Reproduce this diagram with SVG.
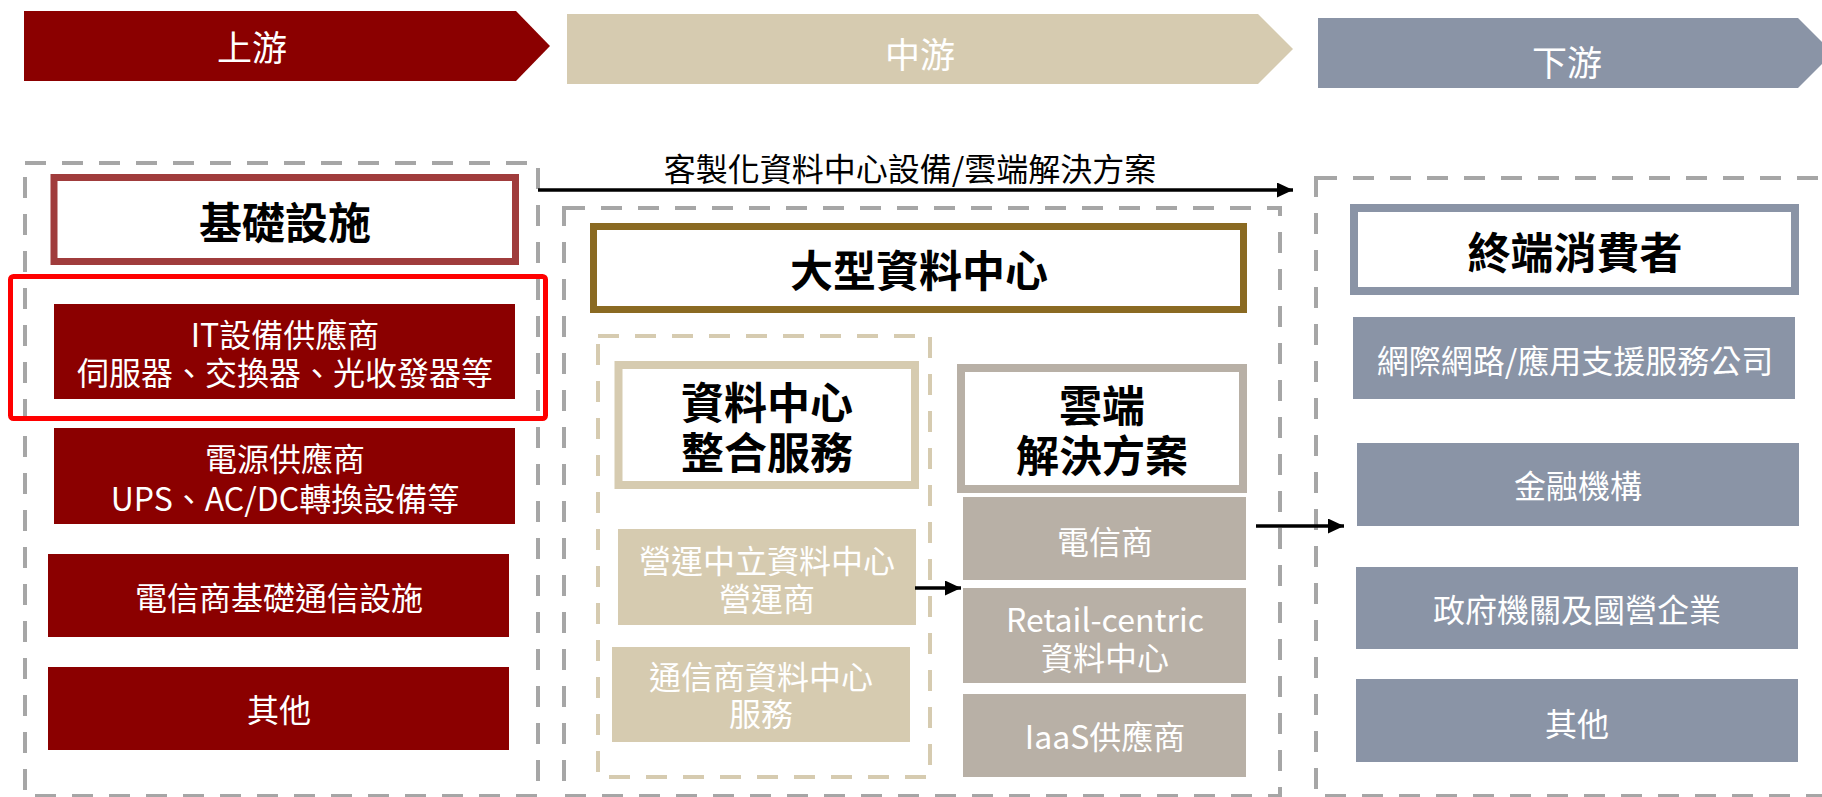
<svg xmlns="http://www.w3.org/2000/svg" width="1822" height="797" viewBox="0 0 1822 797">
<style>
text{font-family:"Noto Sans CJK TC","Noto Sans CJK SC","Noto Sans",sans-serif;text-anchor:middle;dominant-baseline:central}
.ban{font-size:35px;fill:#fff}
.hd{font-size:43px;font-weight:bold;fill:#000}
.bt{font-size:32px;fill:#fff}
.lbl{font-size:32px;fill:#000}
.dash{fill:none;stroke:#a6a6a6;stroke-width:4;stroke-dasharray:21 16}
.dashb{fill:none;stroke:#d6cbb0;stroke-width:4;stroke-dasharray:21 16}
.red{fill:#8b0000}
.beige{fill:#d6cbb0}
.taupe{fill:#b8b0a6}
.slate{fill:#8a94a6}
.conn{stroke:#000;stroke-width:3.5;fill:none}
</style>
<defs>
<marker id="ah" markerWidth="16" markerHeight="15" refX="16" refY="7.5" orient="auto" markerUnits="userSpaceOnUse"><path d="M0,0 L16,7.5 L0,15 z" fill="#000"/></marker>
</defs>

<g id="banner-up">
<path class="red" d="M24,11 H516 L550,46 L516,81 H24 Z"/>
<text class="ban" x="252" y="45">上游</text>
</g>
<g id="banner-mid">
<path class="beige" d="M567,14 H1258 L1293,49 L1258,84 H567 Z"/>
<text class="ban" x="920" y="52">中游</text>
</g>
<g id="banner-down">
<path class="slate" d="M1318,18 H1798 L1833,53 L1798,88 H1318 Z"/>
<text class="ban" x="1567" y="60">下游</text>
</g>

<g id="upstream-group">
<rect class="dash" x="25" y="163" width="513" height="633"/>
</g>
<g id="midstream-group">
<rect class="dash" x="564" y="208" width="716" height="588"/>
</g>
<g id="dc-services-group">
<rect class="dashb" x="598" y="336" width="332" height="441"/>
</g>
<g id="downstream-group">
<rect class="dash" x="1316" y="178" width="520" height="618"/>
</g>

<g id="infra">
<rect x="54" y="177.5" width="461.5" height="84" fill="#fff" stroke="#a03c3c" stroke-width="7"/>
<text class="hd" x="285" y="220">基礎設施</text>
</g>
<g id="it-supplier">
<rect class="red" x="54" y="304" width="461" height="95"/>
<text class="bt" x="285" y="333">IT設備供應商</text>
<text class="bt" x="285" y="371">伺服器、交換器、光收發器等</text>
</g>
<g id="power-supplier">
<rect class="red" x="54" y="428" width="461" height="96"/>
<text class="bt" x="285" y="457">電源供應商</text>
<text class="bt" x="285" y="497">UPS、AC/DC轉換設備等</text>
</g>
<g id="telecom-infra">
<rect class="red" x="48" y="554" width="461" height="83"/>
<text class="bt" x="279" y="596">電信商基礎通信設施</text>
</g>
<g id="up-other">
<rect class="red" x="48" y="667" width="461" height="83"/>
<text class="bt" x="279" y="708">其他</text>
</g>
<g id="highlight">
<rect x="10.5" y="276.5" width="535" height="142" rx="3" fill="none" stroke="#ff0000" stroke-width="5"/>
</g>

<g id="large-dc">
<rect x="593.5" y="226.5" width="650" height="83" fill="#fff" stroke="#8a6a22" stroke-width="7"/>
<text class="hd" x="919" y="268">大型資料中心</text>
</g>
<g id="dc-integration">
<rect x="618.5" y="365" width="296.5" height="120" fill="#fff" stroke="#d6cbb0" stroke-width="8"/>
<text class="hd" x="767" y="400">資料中心</text>
<text class="hd" x="767" y="450">整合服務</text>
</g>
<g id="cloud-solution">
<rect x="961" y="368" width="282" height="121" fill="#fff" stroke="#b8b0a6" stroke-width="8"/>
<text class="hd" x="1102" y="403">雲端</text>
<text class="hd" x="1102" y="453">解決方案</text>
</g>
<g id="neutral-dc">
<rect class="beige" x="618" y="529" width="298" height="96"/>
<text class="bt" x="767" y="559">營運中立資料中心</text>
<text class="bt" x="767" y="597">營運商</text>
</g>
<g id="telecom-dc">
<rect class="beige" x="612" y="647" width="298" height="95"/>
<text class="bt" x="761" y="675">通信商資料中心</text>
<text class="bt" x="761" y="712">服務</text>
</g>
<g id="telecom">
<rect class="taupe" x="963" y="497" width="283" height="83"/>
<text class="bt" x="1105" y="540">電信商</text>
</g>
<g id="retail-dc">
<rect class="taupe" x="963" y="588" width="283" height="95"/>
<text class="bt" x="1105" y="618">Retail-centric</text>
<text class="bt" x="1105" y="656">資料中心</text>
</g>
<g id="iaas">
<rect class="taupe" x="963" y="694" width="283" height="83"/>
<text class="bt" x="1105" y="735">IaaS供應商</text>
</g>

<g id="end-consumer">
<rect x="1354" y="208" width="441" height="83" fill="#fff" stroke="#8a94a6" stroke-width="8"/>
<text class="hd" x="1575" y="250">終端消費者</text>
</g>
<g id="internet-co">
<rect class="slate" x="1353" y="317" width="442" height="82"/>
<text class="bt" x="1575" y="359">網際網路/應用支援服務公司</text>
</g>
<g id="finance">
<rect class="slate" x="1357" y="443" width="442" height="83"/>
<text class="bt" x="1578" y="484">金融機構</text>
</g>
<g id="government">
<rect class="slate" x="1356" y="567" width="442" height="82"/>
<text class="bt" x="1577" y="608">政府機關及國營企業</text>
</g>
<g id="down-other">
<rect class="slate" x="1356" y="679" width="442" height="83"/>
<text class="bt" x="1577" y="722">其他</text>
</g>

<g id="connectors">
<line class="conn" x1="538" y1="190" x2="1293" y2="190" marker-end="url(#ah)"/>
<text class="lbl" x="910" y="167">客製化資料中心設備/雲端解決方案</text>
<line class="conn" x1="915" y1="588" x2="961" y2="588" marker-end="url(#ah)"/>
<line class="conn" x1="1256" y1="526" x2="1344" y2="526" marker-end="url(#ah)"/>
</g>
</svg>
